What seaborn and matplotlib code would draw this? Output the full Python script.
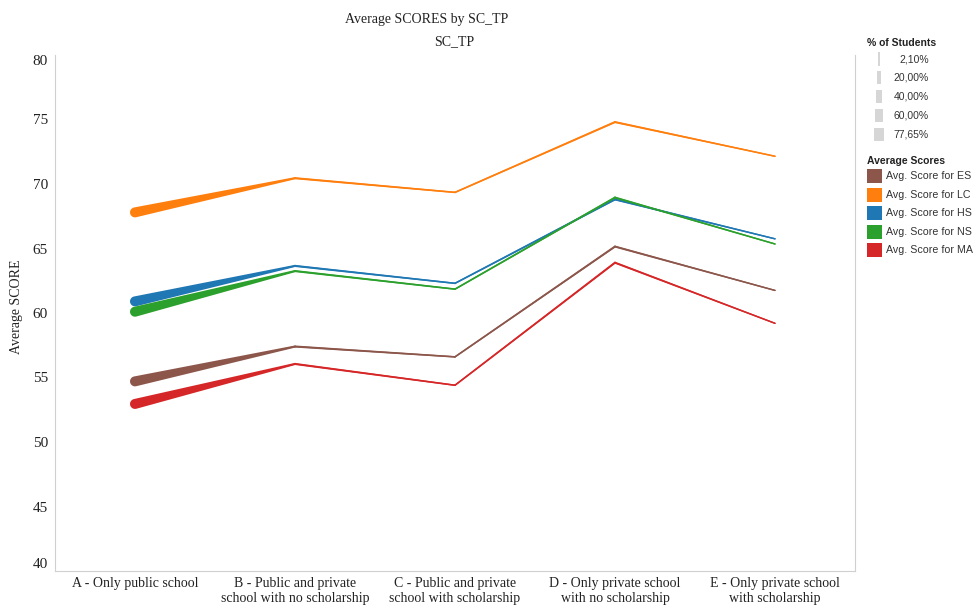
import numpy as np
import pandas as pd
import seaborn as sns
import matplotlib.pyplot as plt
from matplotlib.patches import Polygon, Rectangle

categories = [
    "A - Only public school",
    "B - Public and private\nschool with no scholarship",
    "C - Public and private\nschool with scholarship",
    "D - Only private school\nwith no scholarship",
    "E - Only private school\nwith scholarship",
]
pct_students = [77.65, 8.5, 4.0, 7.75, 2.10]

score_es = [54.7, 57.4, 56.6, 65.15, 61.75]
score_lc = [67.8, 70.45, 69.35, 74.8, 72.15]
score_hs = [60.9, 63.65, 62.3, 68.8, 65.75]
score_ns = [60.1, 63.25, 61.85, 68.95, 65.35]
score_ma = [52.95, 56.05, 54.4, 63.9, 59.2]

series_names = ["Avg. Score for ES", "Avg. Score for LC", "Avg. Score for HS",
                "Avg. Score for NS", "Avg. Score for MA"]
series_colors = ["#8c564b", "#ff7f0e", "#1f77b4", "#2ca02c", "#d62728"]

size_legend_vals = [2.10, 20.0, 40.0, 60.0, 77.65]
size_legend_labels = ["2,10%", "20,00%", "40,00%", "60,00%", "77,65%"]

all_scores = [score_es, score_lc, score_hs, score_ns, score_ma]
df = pd.DataFrame({
    "pos": np.tile(np.arange(len(categories)), len(series_names)),
    "score": np.concatenate(all_scores),
    "series": np.repeat(series_names, len(categories)),
})

sns.set_style("white")
plt.rcParams["font.family"] = ["Liberation Serif", "DejaVu Serif"]

W, H = 973, 608
fig = plt.figure(figsize=(W / 100, H / 100), dpi=100)
ax = fig.add_axes([55 / W, 1 - 571 / H, 800 / W, (571 - 55) / H])

sns.lineplot(data=df, x="pos", y="score", hue="series", palette=series_colors,
             linewidth=1.0, legend=False, sort=False, ax=ax, zorder=2)

ax.set_xlim(-0.5, len(categories) - 0.5)
ax.set_ylim(40, 80)


# line thickness in pixels, from the share of students (Tableau size encoding)
def width_px(p):
    return 1.4 + 8.6 * (p - 2.1) / (77.65 - 2.1)


def capsule(p0, p1, r0, r1, n=14):
    d = p1 - p0
    d = d / np.hypot(*d)
    nrm = np.array([-d[1], d[0]])
    a = np.arctan2(nrm[1], nrm[0])
    a0 = a + np.linspace(0, np.pi, n)
    a1 = a + np.pi + np.linspace(0, np.pi, n)
    arc0 = p0 + r0 * np.c_[np.cos(a0), np.sin(a0)]
    arc1 = p1 + r1 * np.c_[np.cos(a1), np.sin(a1)]
    return np.vstack([arc0, arc1])


inv = ax.transData.inverted()
x = np.arange(len(categories))
for k, (scores, color) in enumerate(zip(all_scores, series_colors)):
    pts = ax.transData.transform(np.c_[x, scores])
    for i in range(len(x) - 1):
        verts = capsule(pts[i], pts[i + 1], width_px(pct_students[i]) / 2,
                        width_px(pct_students[i + 1]) / 2)
        ax.add_patch(Polygon(inv.transform(verts), closed=True, fc=color,
                             ec="none", zorder=3 + k))

# axes styling
ax.spines["top"].set_visible(False)
for s in ["left", "right", "bottom"]:
    ax.spines[s].set_color("#d0d0d0")
    ax.spines[s].set_linewidth(0.8)
ax.set_yticks(range(40, 81, 5))
ax.tick_params(axis="y", length=4, color="#c8c8c8", labelsize=11, labelcolor="#222222", pad=1)
ylabels = ax.get_yticklabels()
ylabels[0].set_va("bottom")
ylabels[-1].set_va("top")
ax.set_xticks(x)
ax.set_xticklabels(categories, fontsize=10, color="#222222", linespacing=1.25)
ax.set_xticks(np.arange(-0.5, len(categories)), minor=True)
ax.tick_params(axis="x", which="major", length=0, pad=4)
ax.tick_params(axis="x", which="minor", length=5, color="#c8c8c8")
ax.set_xlabel("")
ax.set_ylabel("")
ax.grid(False)

fig.text(17 / W, 1 - 307 / H, "Average SCORE", rotation=90, ha="center", va="center",
         fontsize=10, color="#222222")
fig.text(427 / W, 1 - 20 / H, "Average SCORES by SC_TP", ha="center", va="center",
         fontsize=10, color="#222222")
fig.text(454 / W, 1 - 42 / H, "SC_TP", ha="center", va="center", fontsize=10, color="#222222")

# legends (Tableau style, on the right)
sans = ["Liberation Sans", "DejaVu Sans"]
fig.text(867 / W, 1 - 43 / H, "% of Students", fontsize=7.5, fontweight="bold",
         family=sans, va="center", color="#222222")
for i, (v, lab) in enumerate(zip(size_legend_vals, size_legend_labels)):
    yc = 59 + i * 18.8
    w = width_px(v)
    fig.patches.append(Rectangle(((879 - w / 2) / W, 1 - (yc + 6.5) / H), w / W, 13 / H,
                                 transform=fig.transFigure, fc="#d6d6d6", ec="none"))
    fig.text(929 / W, 1 - yc / H, lab, fontsize=7.5, family=sans, ha="right",
             va="center", color="#333333")

fig.text(867 / W, 1 - 161 / H, "Average Scores", fontsize=7.5, fontweight="bold",
         family=sans, va="center", color="#222222")
for i, (name, color) in enumerate(zip(series_names, series_colors)):
    yc = 176 + i * 18.6
    fig.patches.append(Rectangle((867 / W, 1 - (yc + 7) / H), 15 / W, 14 / H,
                                 transform=fig.transFigure, fc=color, ec="none"))
    fig.text(886 / W, 1 - yc / H, name, fontsize=7.7, family=sans, va="center",
             color="#333333")

fig.savefig("out.png", dpi=100)
